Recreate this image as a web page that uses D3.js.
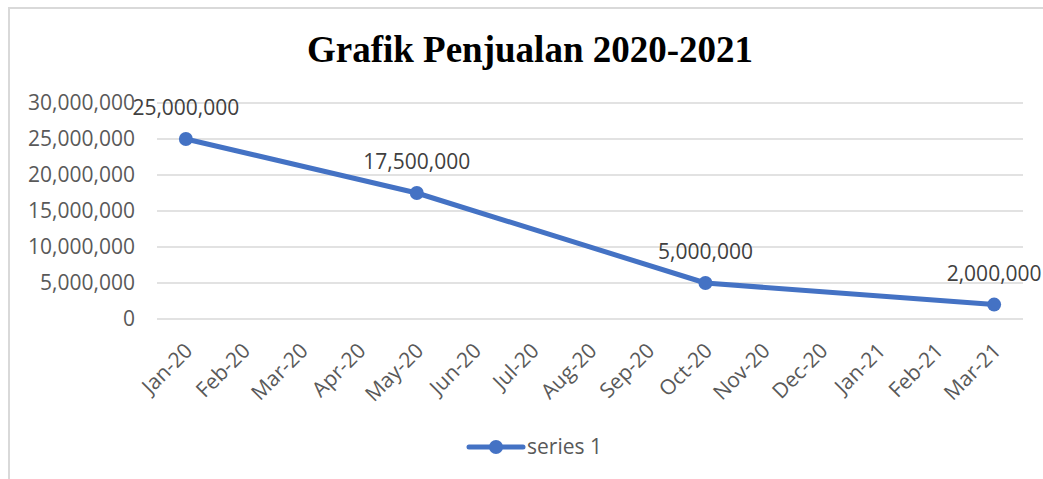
<!DOCTYPE html>
<html>
<head>
<meta charset="utf-8">
<script src="https://cdn.jsdelivr.net/npm/d3@7"></script>
<style>
  body { margin: 0; background: #fff; }
  .tick-label { font-family: "Open Sans", sans-serif; font-size: 21px; fill: #595959; }
  .data-label { font-family: "Open Sans", sans-serif; font-size: 21px; fill: #404040; }
  .title { font-family: "Liberation Serif", "Times New Roman", serif; font-size: 37px; font-weight: bold; fill: #000; }
</style>
</head>
<body>
<div id="chart"></div>
<script>
// data
var months = ['Jan-20', 'Feb-20', 'Mar-20', 'Apr-20', 'May-20', 'Jun-20', 'Jul-20', 'Aug-20',
              'Sep-20', 'Oct-20', 'Nov-20', 'Dec-20', 'Jan-21', 'Feb-21', 'Mar-21'];
var pointMonths = ['Jan-20', 'May-20', 'Oct-20', 'Mar-21'];
var pointValues = [25000000, 17500000, 5000000, 2000000];
var yTicks = [0, 5000000, 10000000, 15000000, 20000000, 25000000, 30000000];
var seriesName = 'series 1';

var width = 1043, height = 479;
var blue = '#4472C4';

var svg = d3.select('#chart')
    .append('svg')
    .attr('width', width)
    .attr('height', height);

// chart border (clipped at right and bottom in the reference)
svg.append('path')
    .attr('d', 'M9,' + (height + 5) + ' L9,8 L' + (width + 5) + ',8')
    .style('fill', 'none')
    .style('stroke', '#d9d9d9')
    .style('stroke-width', 2);

svg.append('text')
    .attr('class', 'title')
    .attr('x', 530)
    .attr('y', 62)
    .style('text-anchor', 'middle')
    .text('Grafik Penjualan 2020-2021');

var x = d3.scaleBand()
    .domain(months)
    .range([157, 1023]);

var y = d3.scaleLinear()
    .domain([0, 30000000])
    .range([319, 103]);

var fmt = d3.format(',');

// gridlines
svg.selectAll('.grid')
    .data(yTicks)
    .enter().append('line')
    .attr('class', 'grid')
    .attr('x1', 157)
    .attr('x2', 1023)
    .attr('y1', function(d) { return y(d); })
    .attr('y2', function(d) { return y(d); })
    .style('stroke', '#d9d9d9')
    .style('stroke-width', 1.5);

// y labels
svg.selectAll('.y-label')
    .data(yTicks)
    .enter().append('text')
    .attr('class', 'tick-label y-label')
    .attr('x', 135)
    .attr('y', function(d) { return y(d); })
    .attr('dy', '0.35em')
    .style('text-anchor', 'end')
    .text(function(d) { return fmt(d); });

// x labels
svg.selectAll('.x-label')
    .data(months)
    .enter().append('text')
    .attr('class', 'tick-label x-label')
    .attr('transform', function(d) {
        return 'translate(' + (x(d) + x.bandwidth() / 2 + 8) + ',' + 352 + ') rotate(-45)';
    })
    .style('text-anchor', 'end')
    .text(function(d) { return d; });

var points = pointMonths.map(function(m, i) { return { month: m, value: pointValues[i] }; });

var line = d3.line()
    .x(function(d) { return x(d.month) + x.bandwidth() / 2; })
    .y(function(d) { return y(d.value); });

svg.append('path')
    .datum(points)
    .attr('d', line)
    .style('fill', 'none')
    .style('stroke', blue)
    .style('stroke-width', 5)
    .style('stroke-linejoin', 'round');

svg.selectAll('.marker')
    .data(points)
    .enter().append('circle')
    .attr('class', 'marker')
    .attr('cx', function(d) { return x(d.month) + x.bandwidth() / 2; })
    .attr('cy', function(d) { return y(d.value); })
    .attr('r', 7)
    .style('fill', blue);

svg.selectAll('.data-label')
    .data(points)
    .enter().append('text')
    .attr('class', 'data-label')
    .attr('x', function(d) { return x(d.month) + x.bandwidth() / 2; })
    .attr('y', function(d) { return y(d.value) - 24; })
    .style('text-anchor', 'middle')
    .text(function(d) { return fmt(d.value); });

// legend
var legend = svg.append('g')
    .attr('transform', 'translate(' + 469 + ',' + 447 + ')');

legend.append('line')
    .attr('x1', 0)
    .attr('x2', 54)
    .style('stroke', blue)
    .style('stroke-width', 5)
    .style('stroke-linecap', 'round');

legend.append('circle')
    .attr('cx', 27)
    .attr('r', 7)
    .style('fill', blue);

legend.append('text')
    .attr('class', 'tick-label')
    .attr('x', 58)
    .attr('dy', '0.35em')
    .text(seriesName);
</script>
</body>
</html>
